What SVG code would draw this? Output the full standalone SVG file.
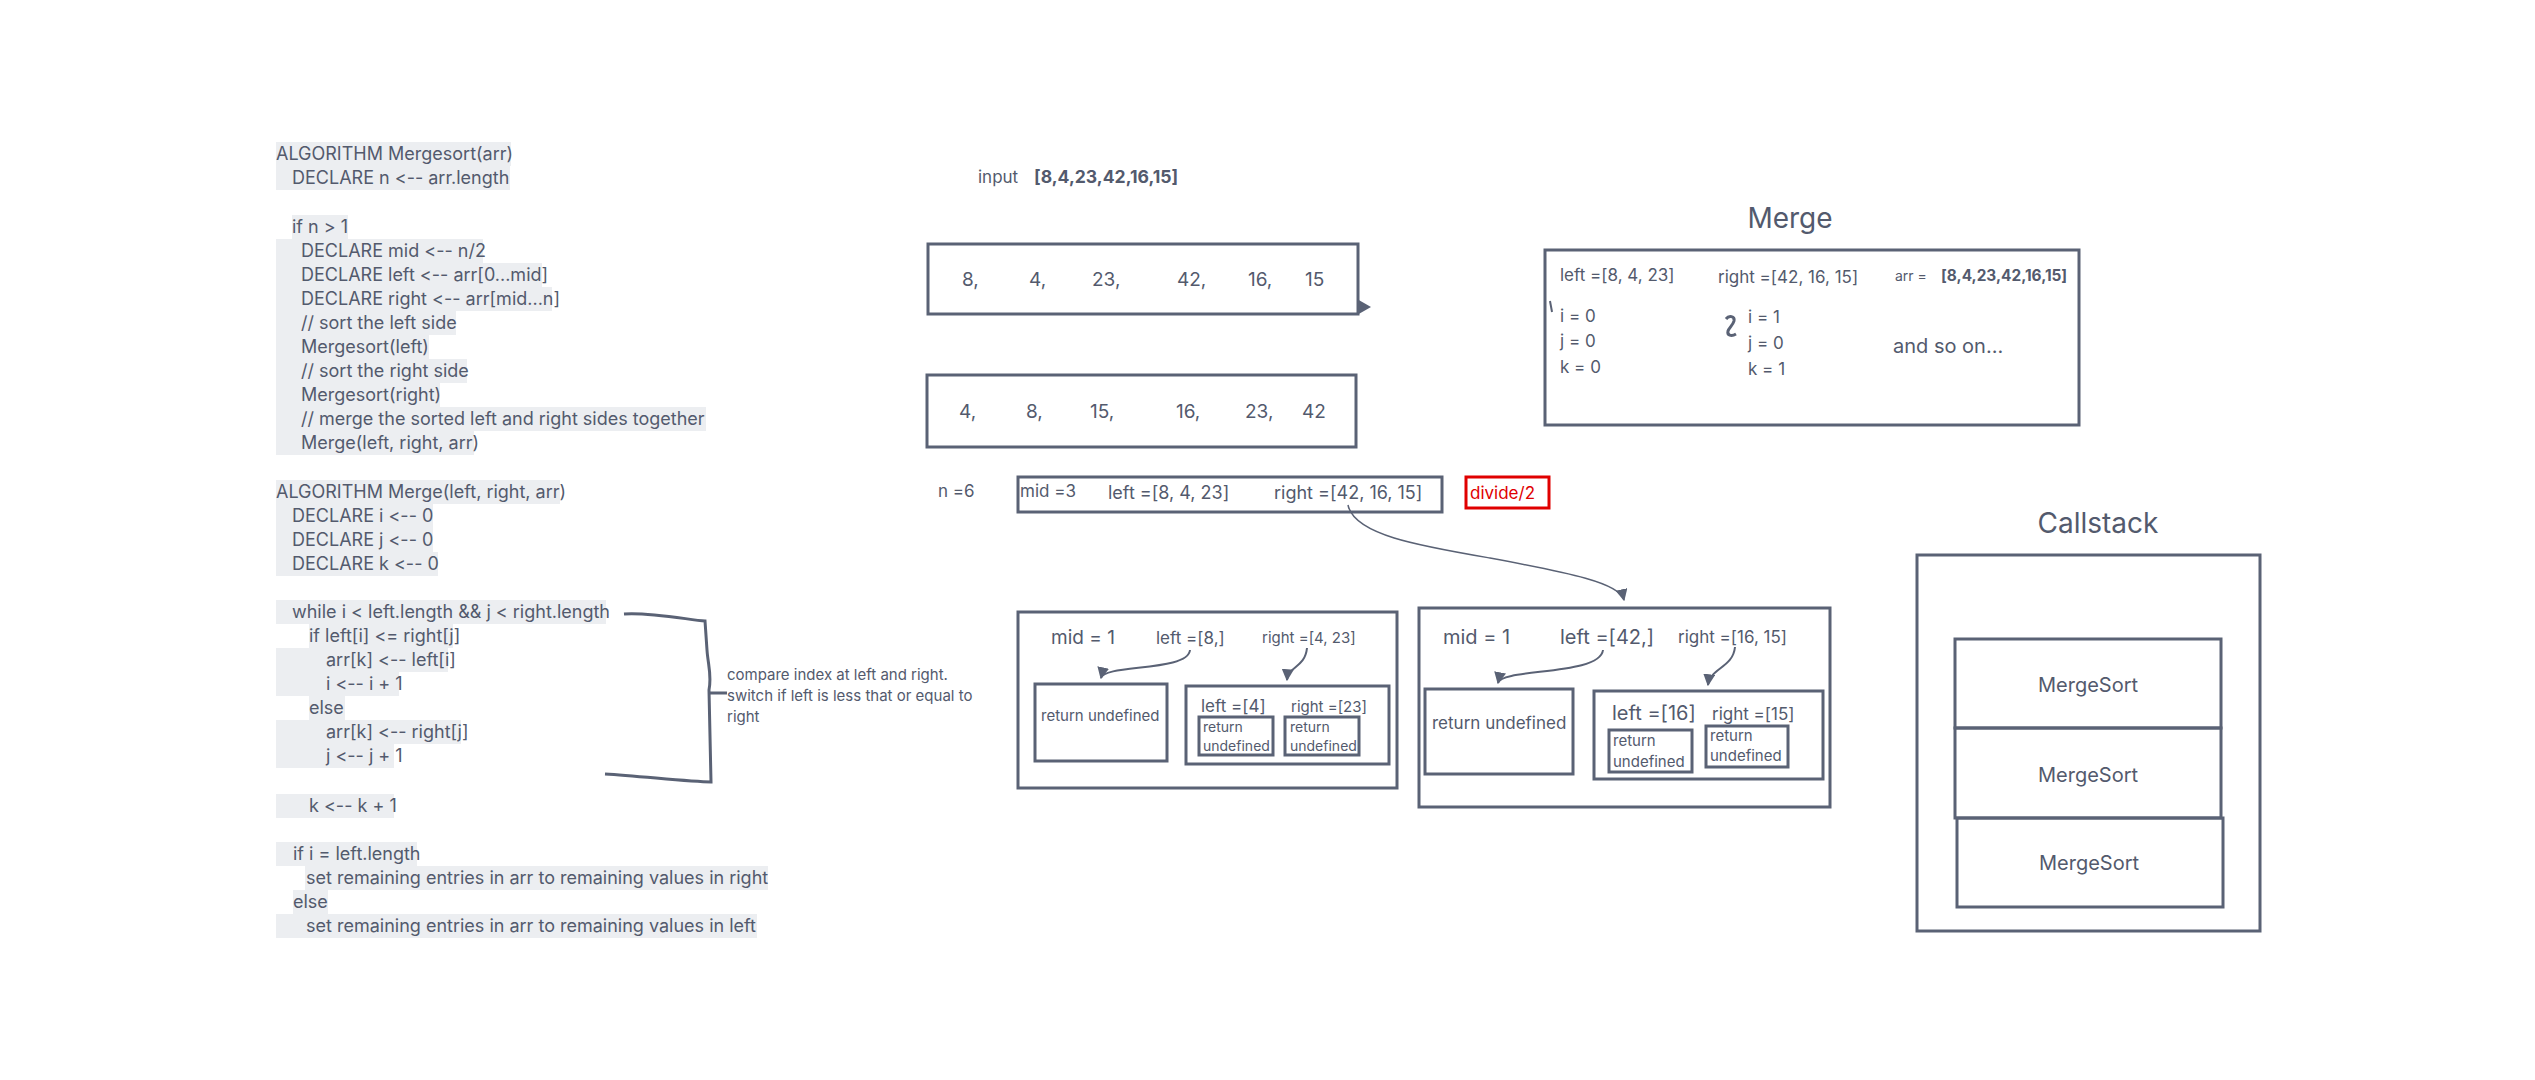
<svg xmlns="http://www.w3.org/2000/svg" width="2535" height="1080" viewBox="0 0 2535 1080">
<style>
text{font-family:Inter,"Liberation Sans",sans-serif;fill:#535a6d;font-variant-ligatures:none;font-feature-settings:"liga" 0,"calt" 0}
.code{font-size:18px}
.hl{fill:#eceef1}
.box{fill:none;stroke:#5a6275;stroke-width:3}
.thin{fill:none;stroke:#5a6275;stroke-width:1.5}
.conn{fill:none;stroke:#5a6275;stroke-width:2}
.n19{font-size:19px}
.n18{font-size:18px}
.n17{font-size:17px}
.n15{font-size:15px}
.n14{font-size:14px}
.n20{font-size:20px}
.n28{font-size:28px}
.b{font-weight:700}
</style>
<defs>
<marker id="tri" viewBox="0 0 10 10" refX="9" refY="5" markerWidth="12" markerHeight="12" markerUnits="userSpaceOnUse" orient="auto">
<path d="M0,0 L10,5 L0,10 z" fill="#5a6275"/>
</marker>
</defs>
<rect width="2535" height="1080" fill="#ffffff"/>

<g id="pseudocode-mergesort">
<rect class="hl" x="276" y="142" width="235" height="24"/>
<rect class="hl" x="276" y="166" width="234" height="24"/>
<rect class="hl" x="292" y="215" width="56" height="24"/>
<rect class="hl" x="276" y="239" width="207" height="24"/>
<rect class="hl" x="276" y="263" width="266" height="24"/>
<rect class="hl" x="276" y="287" width="276" height="24"/>
<rect class="hl" x="276" y="311" width="180" height="24"/>
<rect class="hl" x="276" y="335" width="153" height="24"/>
<rect class="hl" x="276" y="359" width="191" height="24"/>
<rect class="hl" x="276" y="383" width="164" height="24"/>
<rect class="hl" x="276" y="407" width="430" height="24"/>
<rect class="hl" x="276" y="431" width="198" height="24"/>
<text class="code" x="276" y="160">ALGORITHM Mergesort(arr)</text>
<text class="code" x="292" y="184">DECLARE n &lt;-- arr.length</text>
<text class="code" x="292" y="233">if n &gt; 1</text>
<text class="code" x="301" y="257">DECLARE mid &lt;-- n/2</text>
<text class="code" x="301" y="281">DECLARE left &lt;-- arr[0...mid]</text>
<text class="code" x="301" y="305">DECLARE right &lt;-- arr[mid...n]</text>
<text class="code" x="301" y="329">// sort the left side</text>
<text class="code" x="301" y="353">Mergesort(left)</text>
<text class="code" x="301" y="377">// sort the right side</text>
<text class="code" x="301" y="401">Mergesort(right)</text>
<text class="code" x="301" y="425">// merge the sorted left and right sides together</text>
<text class="code" x="301" y="449">Merge(left, right, arr)</text>
</g>

<g id="pseudocode-merge">
<rect class="hl" x="276" y="480" width="284" height="24"/>
<rect class="hl" x="276" y="504" width="157" height="24"/>
<rect class="hl" x="276" y="528" width="157" height="24"/>
<rect class="hl" x="276" y="552" width="162" height="24"/>
<rect class="hl" x="276" y="600" width="330" height="24"/>
<rect class="hl" x="309" y="624" width="144" height="24"/>
<rect class="hl" x="276" y="648" width="172" height="24"/>
<rect class="hl" x="276" y="672" width="123" height="24"/>
<rect class="hl" x="309" y="696" width="36" height="24"/>
<rect class="hl" x="276" y="720" width="185" height="24"/>
<rect class="hl" x="276" y="744" width="118" height="24"/>
<rect class="hl" x="276" y="794" width="118" height="24"/>
<rect class="hl" x="276" y="842" width="141" height="24"/>
<rect class="hl" x="305" y="866" width="463" height="24"/>
<rect class="hl" x="293" y="890" width="35" height="24"/>
<rect class="hl" x="276" y="914" width="481" height="24"/>
<text class="code" x="276" y="498">ALGORITHM Merge(left, right, arr)</text>
<text class="code" x="292" y="522">DECLARE i &lt;-- 0</text>
<text class="code" x="292" y="546">DECLARE j &lt;-- 0</text>
<text class="code" x="292" y="570">DECLARE k &lt;-- 0</text>
<text class="code" x="292" y="618">while i &lt; left.length &amp;&amp; j &lt; right.length</text>
<text class="code" x="309" y="642">if left[i] &lt;= right[j]</text>
<text class="code" x="326" y="666">arr[k] &lt;-- left[i]</text>
<text class="code" x="326" y="690">i &lt;-- i + 1</text>
<text class="code" x="309" y="714">else</text>
<text class="code" x="326" y="738">arr[k] &lt;-- right[j]</text>
<text class="code" x="326" y="762">j &lt;-- j + 1</text>
<text class="code" x="309" y="812">k &lt;-- k + 1</text>
<text class="code" x="293" y="860">if i = left.length</text>
<text class="code" x="306" y="884">set remaining entries in arr to remaining values in right</text>
<text class="code" x="293" y="908">else</text>
<text class="code" x="306" y="932">set remaining entries in arr to remaining values in left</text>
</g>

<g id="compare-note">
<text class="n15" x="727" y="680">compare index at left and right.</text>
<text class="n15" x="727" y="701">switch if left is less that or equal to</text>
<text class="n15" x="727" y="722">right</text>
</g>

<g id="input-label">
<text class="n17" x="978" y="183">input</text>
<text class="b" style="font-size:17.6px" x="1034" y="183">[8,4,23,42,16,15]</text>
</g>

<g id="array-unsorted">
<rect class="box" x="928" y="244" width="430" height="70"/>
<text class="n19" x="962" y="286">8,</text>
<text class="n19" x="1029" y="286">4,</text>
<text class="n19" x="1092" y="286">23,</text>
<text class="n19" x="1177" y="286">42,</text>
<text class="n19" x="1248" y="286">16,</text>
<text class="n19" x="1305" y="286">15</text>
</g>

<g id="array-sorted">
<rect class="box" x="927" y="375" width="429" height="72"/>
<text class="n19" x="959" y="418">4,</text>
<text class="n19" x="1026" y="418">8,</text>
<text class="n19" x="1090" y="418">15,</text>
<text class="n19" x="1176" y="418">16,</text>
<text class="n19" x="1245" y="418">23,</text>
<text class="n19" x="1302" y="418">42</text>
</g>

<g id="n-label">
<text class="n17" x="938" y="497">n =6</text>
</g>

<g id="split-top">
<rect class="box" x="1018" y="477" width="424" height="35"/>
<text class="n17" x="1020" y="497">mid =3</text>
<text class="n18" x="1108" y="499">left =[8, 4, 23]</text>
<text class="n18" x="1274" y="499">right =[42, 16, 15]</text>
</g>

<g id="divide-note">
<rect x="1466" y="477" width="83" height="31" fill="none" stroke="#e00000" stroke-width="3"/>
<text class="n17" x="1470" y="499" style="fill:#e00000">divide/2</text>
</g>

<g id="left-half">
<rect class="box" x="1018" y="612" width="379" height="176"/>
<text class="n19" x="1051" y="644">mid = 1</text>
<text class="n17" x="1156" y="644">left =[8,]</text>
<text class="n15" x="1262" y="643">right =[4, 23]</text>
<rect class="box" x="1035" y="684" width="132" height="77"/>
<text class="n15" x="1041" y="721">return undefined</text>
<rect class="box" x="1186" y="686" width="203" height="78"/>
<text class="n17" x="1201" y="712">left =[4]</text>
<text class="n15" x="1291" y="712">right =[23]</text>
<rect class="box" x="1199" y="717" width="74" height="38"/>
<text class="n14" x="1203" y="732">return</text>
<text class="n14" x="1203" y="751">undefined</text>
<rect class="box" x="1285" y="717" width="74" height="38"/>
<text class="n14" x="1290" y="732">return</text>
<text class="n14" x="1290" y="751">undefined</text>
</g>

<g id="right-half">
<rect class="box" x="1419" y="608" width="411" height="199"/>
<text class="n20" x="1443" y="644">mid = 1</text>
<text class="n20" x="1560" y="644">left =[42,]</text>
<text class="n17" x="1678" y="643">right =[16, 15]</text>
<rect class="box" x="1425" y="689" width="148" height="85"/>
<text class="n17" x="1432" y="729">return undefined</text>
<rect class="box" x="1594" y="691" width="229" height="88"/>
<text class="n20" x="1612" y="720">left =[16]</text>
<text class="n17" x="1712" y="720">right =[15]</text>
<rect class="box" x="1609" y="730" width="83" height="42"/>
<text class="n15" x="1613" y="746">return</text>
<text class="n15" x="1613" y="767">undefined</text>
<rect class="box" x="1706" y="726" width="82" height="41"/>
<text class="n15" x="1710" y="741">return</text>
<text class="n15" x="1710" y="761">undefined</text>
</g>

<g id="merge-panel">
<text class="n28" x="1790" y="228" text-anchor="middle">Merge</text>
<rect class="box" x="1545" y="250" width="534" height="175"/>
<text class="n17" x="1560" y="281">left =[8, 4, 23]</text>
<text class="n17" x="1718" y="283">right =[42, 16, 15]</text>
<text class="n14" x="1895" y="281">arr =</text>
<text class="b" style="font-size:15.4px" x="1941" y="281">[8,4,23,42,16,15]</text>
<text class="n17" x="1560" y="322">i = 0</text>
<text class="n17" x="1560" y="347">j = 0</text>
<text class="n17" x="1560" y="373">k = 0</text>
<text class="n17" x="1748" y="323">i = 1</text>
<text class="n17" x="1748" y="349">j = 0</text>
<text class="n17" x="1748" y="375">k = 1</text>
<text class="n20" x="1893" y="353">and so on...</text>
<path d="M1550,301 L1552,312" fill="none" stroke="#5a6275" stroke-width="2"/>
<path d="M1726,319 C1729,315 1735,316 1734,321 C1733,325 1729,328 1728,331 C1727,335 1731,337 1736,334" fill="none" stroke="#5a6275" stroke-width="3"/>
</g>

<g id="callstack">
<text class="n28" x="2098" y="533" text-anchor="middle">Callstack</text>
<rect class="box" x="1917" y="555" width="343" height="376"/>
<rect class="box" x="1955" y="639" width="266" height="89"/>
<text class="n20" x="2088" y="692" text-anchor="middle">MergeSort</text>
<rect class="box" x="1955" y="728" width="266" height="90"/>
<text class="n20" x="2088" y="782" text-anchor="middle">MergeSort</text>
<rect class="box" x="1957" y="818" width="266" height="89"/>
<text class="n20" x="2089" y="870" text-anchor="middle">MergeSort</text>
</g>

<g id="connectors">
<polygon points="1357,299 1371,307 1357,315" fill="#5a6275"/>
<path class="thin" d="M1348,505 C1354,535 1420,546 1490,558 C1570,573 1620,583 1624,600" marker-end="url(#tri)"/>
<path class="conn" d="M1190,650 C1188,672 1104,664 1101,678" marker-end="url(#tri)"/>
<path class="conn" d="M1307,648 C1305,668 1288,666 1287,680" marker-end="url(#tri)"/>
<path class="conn" d="M1603,650 C1600,676 1501,668 1498,683" marker-end="url(#tri)"/>
<path class="conn" d="M1735,647 C1733,668 1710,668 1708,685" marker-end="url(#tri)"/>
<path d="M624,614 C650,612 690,620 705,621 L707,650 C708,665 712,675 709,690 L711,782 C690,782 640,776 605,774 M709,693 L727,693" fill="none" stroke="#5a6275" stroke-width="3"/>
</g>
</svg>
